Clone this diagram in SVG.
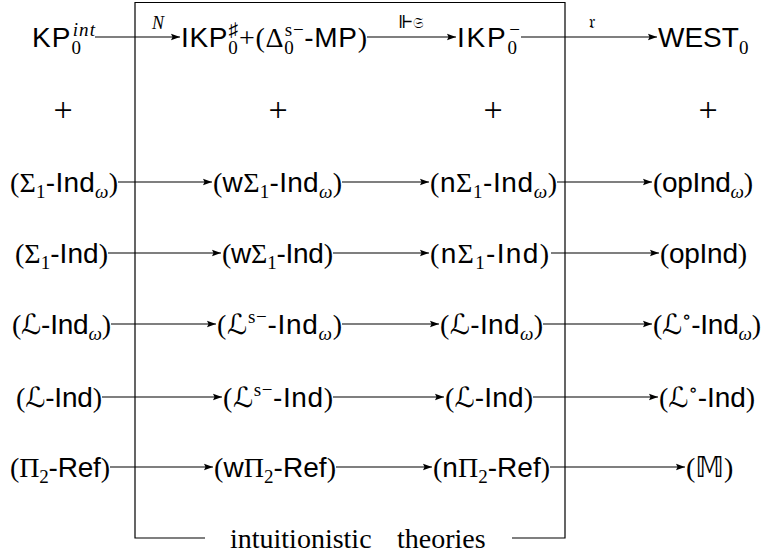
<svg xmlns="http://www.w3.org/2000/svg" width="763" height="554" viewBox="0 0 763 554">
<style>
.t{font-family:"Liberation Sans","DejaVu Sans",sans-serif;font-size:28px;fill:#000}
.m{font-family:"Liberation Serif","DejaVu Serif","DejaVu Sans",serif}
.s{font-family:"DejaVu Sans","DejaVu Serif",serif}
.i{font-style:italic}
.sb{font-size:19px}
.lb{font-family:"Liberation Serif","DejaVu Serif","DejaVu Sans",serif;font-size:18px;fill:#000}
.c{stroke:#000;stroke-width:1.2;fill:none}
.e{stroke:#000;stroke-width:1.2;fill:none;marker-end:url(#ah)}
.pl{font-family:"Liberation Serif","DejaVu Serif",serif;font-size:34px;fill:#000;text-anchor:middle}
</style>
<defs>
<marker id="ah" markerWidth="10" markerHeight="8" refX="9" refY="4" orient="auto" markerUnits="userSpaceOnUse">
<path d="M0,0.8 L9,4 L0,7.2 L1.5,4 Z" fill="#000"/>
</marker>
</defs>
<g id="frame">
<path class="c" d="M205,538 H135 V2.5 H565 V538 H512"/>
<text y="548" font-family="Liberation Serif,serif" font-size="28"><tspan x="230">intuitionistic</tspan><tspan x="397">theories</tspan></text>
</g>
<g id="connectors">
<line class="e" x1="95" y1="37" x2="180" y2="37"/>
<line class="e" x1="367" y1="37" x2="456" y2="37"/>
<line class="e" x1="521" y1="37" x2="657" y2="37"/>
<line class="e" x1="118" y1="182" x2="212" y2="182"/>
<line class="e" x1="342" y1="182" x2="429" y2="182"/>
<line class="e" x1="557" y1="182" x2="652" y2="182"/>
<line class="e" x1="108" y1="253" x2="221" y2="253"/>
<line class="e" x1="333" y1="253" x2="429" y2="253"/>
<line class="e" x1="551" y1="253" x2="659" y2="253"/>
<line class="e" x1="111" y1="324" x2="216" y2="324"/>
<line class="e" x1="342" y1="324" x2="439" y2="324"/>
<line class="e" x1="543" y1="324" x2="652" y2="324"/>
<line class="e" x1="102" y1="397" x2="222" y2="397"/>
<line class="e" x1="333" y1="397" x2="444" y2="397"/>
<line class="e" x1="533" y1="397" x2="658" y2="397"/>
<line class="e" x1="110" y1="467" x2="213" y2="467"/>
<line class="e" x1="336" y1="467" x2="432" y2="467"/>
<line class="e" x1="550" y1="467" x2="685" y2="467"/>
<text class="lb i" x="152" y="29">N</text>
<text class="lb" x="398" y="28" font-size="16">⊩<tspan font-size="15" font-family="DejaVu Sans">𝔖</tspan></text>
<text class="lb" x="589" y="28" font-size="17" font-family="DejaVu Sans">𝔯</text>
</g>
<g id="plus">
<text class="pl" x="63" y="121">+</text>
<text class="pl" x="278" y="121">+</text>
<text class="pl" x="493" y="121">+</text>
<text class="pl" x="708" y="121">+</text>
</g>
<g id="n-kp"><text class="t" x="32" y="46.5" textLength="63">KP<tspan class="m sb" dy="7">0</tspan><tspan class="m i sb" dx="-9.5" dy="-18">int</tspan></text></g>
<g id="n-ikp"><text class="t" x="181" y="46.5" textLength="186">IKP<tspan class="m sb" dy="7">0</tspan><tspan class="m sb" dx="-9.5" dy="-18">♯</tspan><tspan class="m" dy="11">+(Δ</tspan><tspan class="m sb" dy="7">0</tspan><tspan class="m sb" dx="-9.5" dy="-18">s−</tspan><tspan dy="11">-MP</tspan><tspan class="m">)</tspan></text></g>
<g id="n-ikpm"><text class="t" x="457" y="46.5" textLength="63">IKP<tspan class="m sb" dy="7">0</tspan><tspan class="m sb" dx="-9.5" dy="-18">−</tspan></text></g>
<g id="n-west"><text class="t" x="658" y="46.5">WEST<tspan class="m sb" dy="7">0</tspan></text></g>

<g id="n-s1w"><text class="t" x="10" y="191.5" textLength="108"><tspan class="m">(Σ</tspan><tspan class="m sb" dy="6">1</tspan><tspan dy="-6">-Ind</tspan><tspan class="m i sb" dy="6">ω</tspan><tspan class="m" dy="-6">)</tspan></text></g>
<g id="n-ws1w"><text class="t" x="213" y="191.5" textLength="129"><tspan class="m">(</tspan>w<tspan class="m">Σ</tspan><tspan class="m sb" dy="6">1</tspan><tspan dy="-6">-Ind</tspan><tspan class="m i sb" dy="6">ω</tspan><tspan class="m" dy="-6">)</tspan></text></g>
<g id="n-ns1w"><text class="t" x="430" y="191.5" textLength="127"><tspan class="m">(</tspan>n<tspan class="m">Σ</tspan><tspan class="m sb" dy="6">1</tspan><tspan dy="-6">-Ind</tspan><tspan class="m i sb" dy="6">ω</tspan><tspan class="m" dy="-6">)</tspan></text></g>
<g id="n-opw"><text class="t" x="653" y="191.5" textLength="100"><tspan class="m">(</tspan>opInd<tspan class="m i sb" dy="6">ω</tspan><tspan class="m" dy="-6">)</tspan></text></g>

<g id="n-s1"><text class="t" x="15" y="262.5" textLength="93"><tspan class="m">(Σ</tspan><tspan class="m sb" dy="6">1</tspan><tspan dy="-6">-Ind</tspan><tspan class="m">)</tspan></text></g>
<g id="n-ws1"><text class="t" x="222" y="262.5" textLength="111"><tspan class="m">(</tspan>w<tspan class="m">Σ</tspan><tspan class="m sb" dy="6">1</tspan><tspan dy="-6">-Ind</tspan><tspan class="m">)</tspan></text></g>
<g id="n-ns1"><text class="t" x="430" y="262.5" textLength="119"><tspan class="m">(</tspan>n<tspan class="m">Σ</tspan><tspan class="m sb" dy="6">1</tspan><tspan dy="-6">-Ind</tspan><tspan class="m">)</tspan></text></g>
<g id="n-op"><text class="t" x="660" y="262.5" textLength="87"><tspan class="m">(</tspan>opInd<tspan class="m">)</tspan></text></g>

<g id="n-lw"><text class="t" x="12" y="333.5" textLength="99"><tspan class="m">(</tspan><tspan class="s">ℒ</tspan>-Ind<tspan class="m i sb" dy="6">ω</tspan><tspan class="m" dy="-6">)</tspan></text></g>
<g id="n-lsw"><text class="t" x="217" y="333.5" textLength="125"><tspan class="m">(</tspan><tspan class="s">ℒ</tspan><tspan class="m sb" dy="-11">s−</tspan><tspan dy="11">-Ind</tspan><tspan class="m i sb" dy="6">ω</tspan><tspan class="m" dy="-6">)</tspan></text></g>
<g id="n-lw2"><text class="t" x="440" y="333.5" textLength="103"><tspan class="m">(</tspan><tspan class="s">ℒ</tspan>-Ind<tspan class="m i sb" dy="6">ω</tspan><tspan class="m" dy="-6">)</tspan></text></g>
<g id="n-low"><text class="t" x="653" y="333.5" textLength="108"><tspan class="m">(</tspan><tspan class="s">ℒ</tspan><tspan class="m sb" dy="-11">∘</tspan><tspan dy="11">-Ind</tspan><tspan class="m i sb" dy="6">ω</tspan><tspan class="m" dy="-6">)</tspan></text></g>

<g id="n-l"><text class="t" x="16" y="406.5" textLength="86"><tspan class="m">(</tspan><tspan class="s">ℒ</tspan>-Ind<tspan class="m">)</tspan></text></g>
<g id="n-ls"><text class="t" x="223" y="406.5" textLength="110"><tspan class="m">(</tspan><tspan class="s">ℒ</tspan><tspan class="m sb" dy="-11">s−</tspan><tspan dy="11">-Ind</tspan><tspan class="m">)</tspan></text></g>
<g id="n-l2"><text class="t" x="445" y="406.5" textLength="88"><tspan class="m">(</tspan><tspan class="s">ℒ</tspan>-Ind<tspan class="m">)</tspan></text></g>
<g id="n-lo"><text class="t" x="659" y="406.5" textLength="96"><tspan class="m">(</tspan><tspan class="s">ℒ</tspan><tspan class="m sb" dy="-11">∘</tspan><tspan dy="11">-Ind</tspan><tspan class="m">)</tspan></text></g>

<g id="n-p2"><text class="t" x="10" y="476.5" textLength="100"><tspan class="m">(Π</tspan><tspan class="m sb" dy="6">2</tspan><tspan dy="-6">-Ref</tspan><tspan class="m">)</tspan></text></g>
<g id="n-wp2"><text class="t" x="214" y="476.5" textLength="122"><tspan class="m">(</tspan>w<tspan class="m">Π</tspan><tspan class="m sb" dy="6">2</tspan><tspan dy="-6">-Ref</tspan><tspan class="m">)</tspan></text></g>
<g id="n-np2"><text class="t" x="433" y="476.5" textLength="117"><tspan class="m">(</tspan>n<tspan class="m">Π</tspan><tspan class="m sb" dy="6">2</tspan><tspan dy="-6">-Ref</tspan><tspan class="m">)</tspan></text></g>
<g id="n-m"><text class="t" x="686" y="476.5"><tspan class="m">(</tspan><tspan class="s">𝕄</tspan><tspan class="m">)</tspan></text></g>
</svg>
